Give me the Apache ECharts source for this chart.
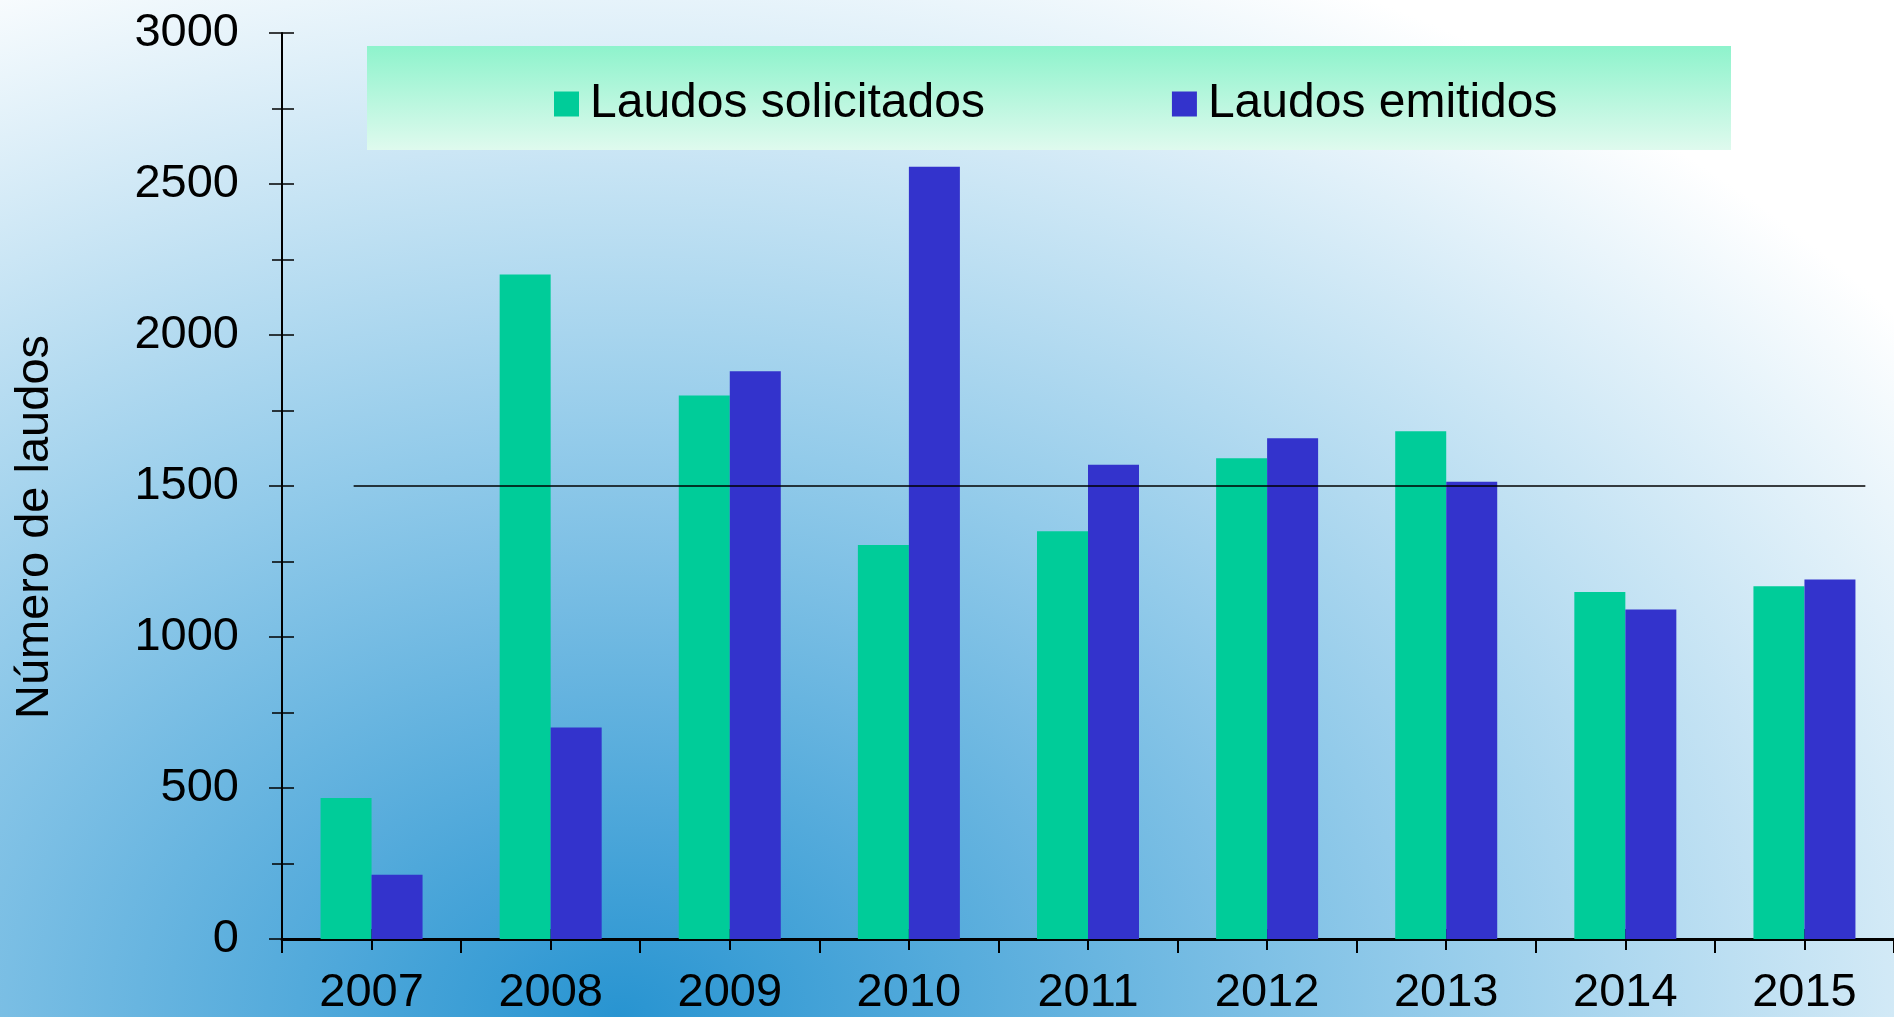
<!DOCTYPE html>
<html>
<head>
<meta charset="utf-8">
<title>Número de laudos</title>
<script src="https://cdn.jsdelivr.net/npm/echarts@6/dist/echarts.min.js"></script>
<style>
  html, body { margin: 0; padding: 0; }
  #chart { width: 1894px; height: 1017px; }
</style>
</head>
<body>
<div id="chart"></div>
<script>
// datos
const years = ['2007', '2008', '2009', '2010', '2011', '2012', '2013', '2014', '2015'];
const solicitados = [467, 2200, 1800, 1305, 1350, 1592, 1681, 1149, 1168];
const emitidos = [213, 700, 1880, 2557, 1570, 1658, 1514, 1091, 1190];
const seriesNames = ['Laudos solicitados', 'Laudos emitidos'];
const yMin = 0;
const yMax = 3000;
const yStep = 500;
const referenceValue = 1500;
// extremos de la línea de referencia, en unidades de categoría
const referenceSpan = [-0.1, 8.34];

const FONT = "'Liberation Sans', Arial, sans-serif";

const chart = echarts.init(document.getElementById('chart'));

// fondo: degradado radial elíptico (azul abajo, blanco arriba a la derecha)
const stretch = 1.4;
const bgGradient = new echarts.graphic.RadialGradient(620 / stretch, 1017, 1150, [
  { offset: 0, color: '#2894d1' },
  { offset: 0.5, color: '#93cbea' },
  { offset: 1, color: '#ffffff' }
], true);

const legendGradient = new echarts.graphic.LinearGradient(0, 0, 0, 1, [
  { offset: 0, color: '#8ef3cc' },
  { offset: 1, color: '#dffaee' }
]);

const option = {
  backgroundColor: '#ffffff',
  animation: false,
  textStyle: { fontFamily: FONT },
  graphic: [
    {
      type: 'rect',
      z: -20,
      silent: true,
      x: 0,
      y: 0,
      scaleX: stretch,
      shape: { x: 0, y: 0, width: 1894 / stretch, height: 1017 },
      style: { fill: bgGradient }
    },
    {
      type: 'rect',
      z: -10,
      silent: true,
      shape: { x: 367, y: 46, width: 1364, height: 104 },
      style: { fill: legendGradient }
    },
    {
      type: 'text',
      silent: true,
      x: 35,
      y: 527,
      rotation: Math.PI / 2,
      style: {
        text: 'Número de laudos',
        font: '47px ' + FONT,
        fill: '#000',
        align: 'center',
        verticalAlign: 'middle'
      }
    }
  ],
  legend: {
    data: seriesNames,
    left: 549,
    top: 75,
    icon: 'rect',
    itemWidth: 25,
    itemHeight: 25,
    itemGap: 187,
    textStyle: {
      fontSize: 48,
      color: '#000',
      fontFamily: FONT,
      padding: [0, 0, 0, 6]
    }
  },
  grid: {
    left: 282,
    right: 0,
    top: 33,
    bottom: 78,
    containLabel: false
  },
  xAxis: [
    {
      type: 'category',
      data: years,
      position: 'bottom',
      boundaryGap: true,
      axisLine: { onZero: false, lineStyle: { color: '#000', width: 3 } },
      axisTick: { show: true, inside: false, length: 14, lineStyle: { color: '#000', width: 2 } },
      axisLabel: { fontSize: 47, color: '#000', margin: 31, fontFamily: FONT },
      splitLine: { show: false }
    },
    {
      type: 'category',
      data: years,
      position: 'bottom',
      axisLine: { show: false, onZero: false },
      axisTick: { show: true, alignWithLabel: true, inside: true, length: 10, lineStyle: { color: '#000', width: 2 } },
      axisLabel: { show: false },
      splitLine: { show: false }
    },
    {
      type: 'category',
      data: years,
      position: 'bottom',
      axisLine: { show: false, onZero: false },
      axisTick: { show: true, alignWithLabel: true, inside: false, length: 11, lineStyle: { color: '#000', width: 2 } },
      axisLabel: { show: false },
      splitLine: { show: false }
    },
    {
      // eje auxiliar para la línea de referencia
      type: 'value',
      show: false,
      min: -0.5,
      max: years.length - 0.5
    }
  ],
  yAxis: [
    {
      type: 'value',
      position: 'left',
      min: yMin,
      max: yMax,
      interval: yStep,
      axisLine: { show: true, onZero: false, lineStyle: { color: '#000', width: 2 } },
      axisTick: { show: true, inside: false, length: 13, lineStyle: { color: '#000', width: 1.5 } },
      minorTick: { show: true, splitNumber: 2, length: 10, lineStyle: { color: '#000', width: 1.5 } },
      axisLabel: {
        fontSize: 47,
        color: '#000',
        margin: 43,
        fontFamily: FONT,
        formatter: function (v) { return String(v); }
      },
      splitLine: { show: false }
    },
    {
      type: 'value',
      position: 'left',
      min: yMin,
      max: yMax,
      interval: yStep / 2,
      axisLine: { show: false, onZero: false },
      axisTick: { show: true, inside: true, length: 12, lineStyle: { color: '#000', width: 1.5 } },
      axisLabel: { show: false },
      splitLine: { show: false }
    }
  ],
  series: [
    {
      name: seriesNames[0],
      type: 'bar',
      data: solicitados,
      barWidth: 51,
      barGap: '0%',
      itemStyle: { color: '#00cc99' }
    },
    {
      name: seriesNames[1],
      type: 'bar',
      data: emitidos,
      barWidth: 51,
      barGap: '0%',
      itemStyle: { color: '#3333cc' }
    },
    {
      name: 'referencia',
      type: 'line',
      xAxisIndex: 3,
      yAxisIndex: 0,
      data: referenceSpan.map(function (x) { return [x, referenceValue]; }),
      symbol: 'none',
      silent: true,
      z: 5,
      lineStyle: { color: '#000', width: 1.5 }
    }
  ]
};

chart.setOption(option);
</script>
</body>
</html>
